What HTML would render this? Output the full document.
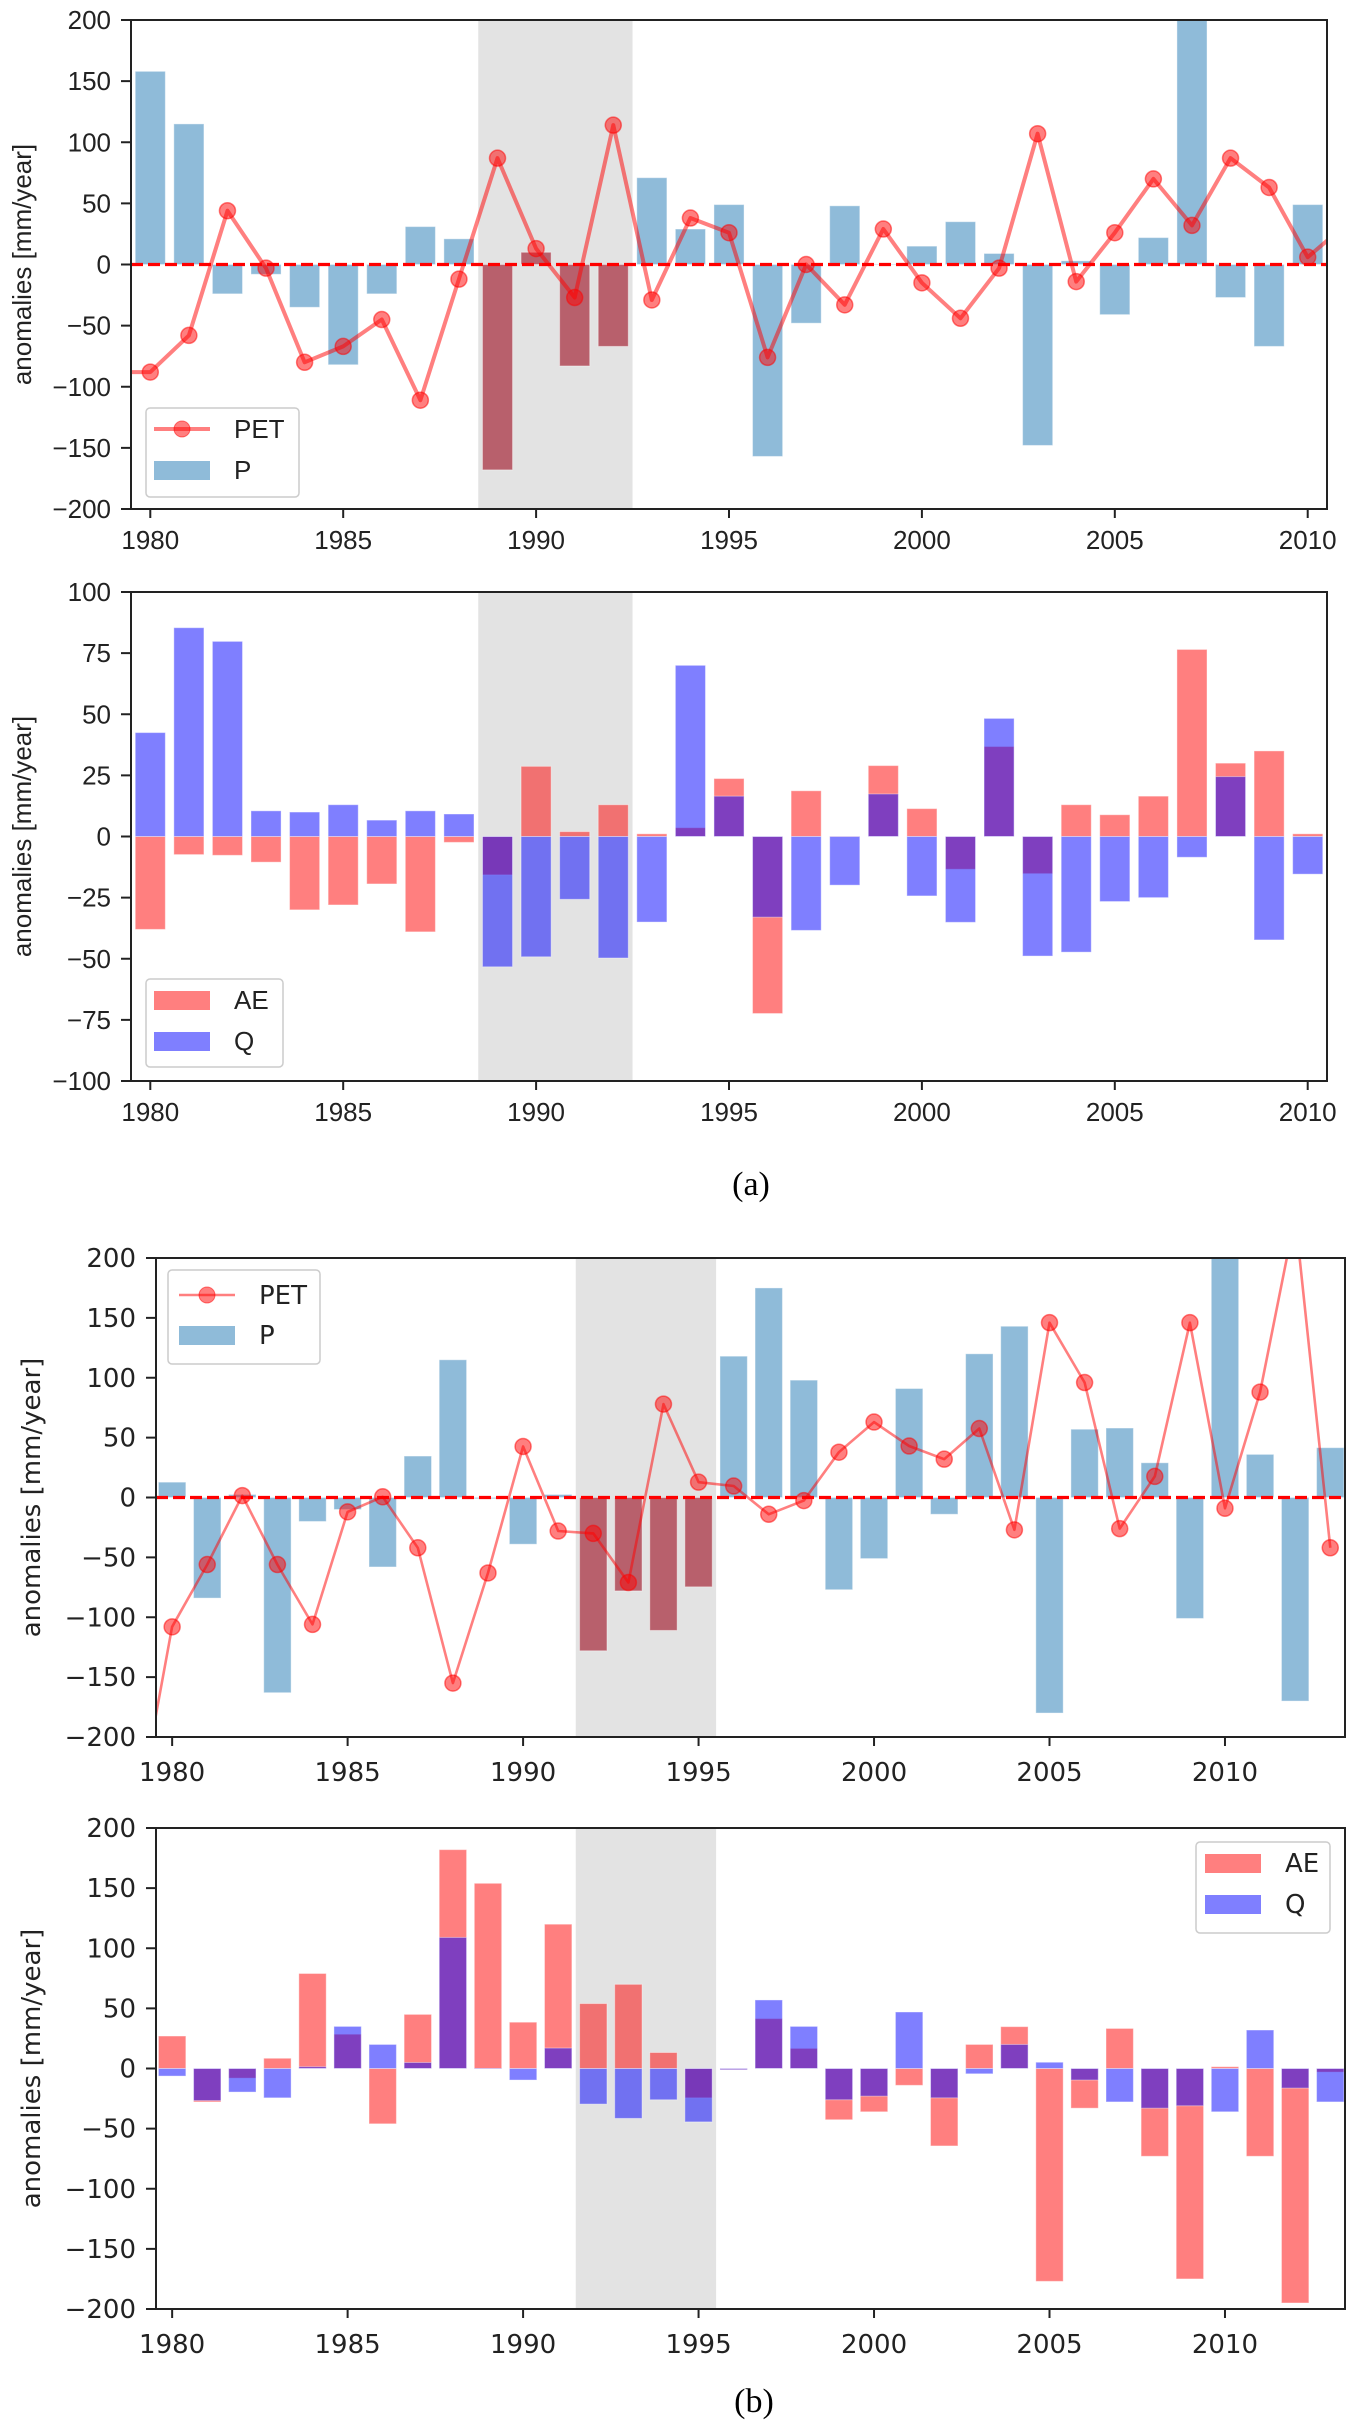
<!DOCTYPE html>
<html><head><meta charset="utf-8">
<style>
html,body{margin:0;padding:0;background:#fff;}
svg{display:block;}
</style></head>
<body>
<svg id="fig" xmlns="http://www.w3.org/2000/svg" width="1361" height="2435" viewBox="0 0 1361 2435">
<rect x="0" y="0" width="1361" height="2435" fill="#fff"/>
<text x="751" y="1195" font-family="Liberation Serif, serif" font-size="34" text-anchor="middle">(a)</text>
<text x="754" y="2412" font-family="Liberation Serif, serif" font-size="34" text-anchor="middle">(b)</text>
</svg>
<script>
const yearsA = [1980,1981,1982,1983,1984,1985,1986,1987,1988,1989,1990,1991,1992,1993,1994,1995,1996,1997,1998,1999,2000,2001,2002,2003,2004,2005,2006,2007,2008,2009,2010];
const petYearsA = [1979,1980,1981,1982,1983,1984,1985,1986,1987,1988,1989,1990,1991,1992,1993,1994,1995,1996,1997,1998,1999,2000,2001,2002,2003,2004,2005,2006,2007,2008,2009,2010,2011];
const pA = [158,115,-24,-8,-35,-82,-24,31,21,-168,10,-83,-67,71,29,49,-157,-48,48,0,15,35,9,-148,3,-41,22,230,-27,-67,49];
const petA = [-88,-88,-58,44,-3,-80,-67,-45,-111,-12,87,13,-27,114,-29,38,26,-76,0,-33,29,-15,-44,-3,107,-14,26,70,32,87,63,6,33];
const aeA = [-38,-7.4,-7.7,-10.5,-30,-28,-19.4,-39,-2.4,-15.7,28.7,2,13,1.1,3.6,23.7,-72.4,18.7,0,29,11.4,-13.4,36.8,-15.2,13,8.9,16.5,76.5,30,35,1.1];
const qA = [42.5,85.4,79.8,10.5,10,13,6.7,10.5,9.2,-53.3,-49.2,-25.7,-49.7,-35,70,16.5,-33,-38.4,-19.9,17.4,-24.3,-35.1,48.3,-48.9,-47.3,-26.6,-25,-8.5,24.5,-42.3,-15.4];
const spanA = [1988.5,1992.5];

const yearsB = [1980,1981,1982,1983,1984,1985,1986,1987,1988,1989,1990,1991,1992,1993,1994,1995,1996,1997,1998,1999,2000,2001,2002,2003,2004,2005,2006,2007,2008,2009,2010,2011,2012,2013];
const petYearsB = [1979,1980,1981,1982,1983,1984,1985,1986,1987,1988,1989,1990,1991,1992,1993,1994,1995,1996,1997,1998,1999,2000,2001,2002,2003,2004,2005,2006,2007,2008,2009,2010,2011,2012,2013];
const pB = [12.8,-84,2.5,-163,-20,-10,-58,34.6,115,-1,-39,2.5,-128,-78,-111,-74.6,118,175,98,-77,-51,91,-14,120,143,-180,57,58,29,-101,215,36,-170,41.6];
const petB = [-268,-108,-56,1.6,-56,-106,-12,0.6,-42,-155,-63,42.6,-28,-30,-71,78,12.8,9.6,-14,-2.6,37.8,63,43,32,57.6,-27,146,96,-26,17.6,146,-9,88,235,-42];
const aeB = [27,-27.8,-8,8.5,79,28.5,-46,45,182,154,38.5,120,54,70,13.3,-24.4,-1,41.5,16.7,-42.6,-36,-14,-64.4,20,34.8,-177,-33,33.3,-73,-175,1.5,-73,-195,-3];
const qB = [-6.3,-26.7,-19.6,-24.4,1.5,35,20,5,109,0,-9.6,17,-29.6,-41.5,-26,-44.4,-1,57,35,-26,-23,47,-24.4,-4.4,20,5.2,-9.6,-27.8,-33,-31,-36,32,-16.3,-27.8];
const spanB = [1991.5,1995.5];

const xTicksA = [1980,1985,1990,1995,2000,2005,2010];
const yTicks200 = [-200,-150,-100,-50,0,50,100,150,200];
const yTicks100 = [-100,-75,-50,-25,0,25,50,75,100];

const NS = 'http://www.w3.org/2000/svg';
const fig = document.getElementById('fig');
function mk(tag, attrs, parent){
  const e = document.createElementNS(NS, tag);
  for (const k in attrs) e.setAttribute(k, attrs[k]);
  (parent||fig).appendChild(e);
  return e;
}
let clipId = 0;

function panel(cfg){
  const g = mk('g', {});
  
  
  const sx = v => cfg.L + (v - cfg.xmin) / (cfg.xmax - cfg.xmin) * (cfg.R - cfg.L);
  const sy = v => cfg.B - (v - cfg.ymin) / (cfg.ymax - cfg.ymin) * (cfg.B - cfg.T);
  const cid = 'clip' + (clipId++);
  const defs = mk('defs', {}, g);
  const cp = mk('clipPath', {id: cid}, defs);
  mk('rect', {x: cfg.L, y: cfg.T, width: cfg.R - cfg.L, height: cfg.B - cfg.T}, cp);
  const plot = mk('g', {'clip-path': 'url(#' + cid + ')'}, g);
  const sp = mk('rect', {x: sx(cfg.span[0]), y: cfg.T, width: sx(cfg.span[1]) - sx(cfg.span[0]), height: cfg.B - cfg.T, fill: '#e3e3e3'}, plot);
  
  
  const bw = 0.78;
  function bars(years, vals, color, opacity, spanColor, label){
    years.forEach((yr, i) => {
      const v = vals[i];
      const x0 = sx(yr - bw/2), x1 = sx(yr + bw/2);
      const y0 = sy(Math.max(v,0)), y1 = sy(Math.min(v,0));
      const inSpan = spanColor && yr > cfg.span[0] && yr < cfg.span[1];
      const r = mk('rect', {x: x0, y: y0, width: x1 - x0, height: Math.max(y1 - y0, 0.5),
        fill: inSpan ? spanColor : color, 'fill-opacity': inSpan ? 1 : opacity,
        stroke: '#fff', 'stroke-opacity': 0.4, 'stroke-width': 1}, plot);
      
      
    });
  }
  if (cfg.type === 'pet') {
    bars(cfg.years, cfg.p, '#1f77b4', 0.5, '#b8606c', 'p');
    const zl = mk('line', {x1: cfg.L, x2: cfg.R, y1: sy(0), y2: sy(0), stroke: '#ff0000', 'stroke-width': 3.2, 'stroke-dasharray': '12,5'}, plot);
    
    
    const pts = cfg.petYears.map((yr, i) => sx(yr).toFixed(1) + ',' + sy(cfg.pet[i]).toFixed(1)).join(' ');
    const pl = mk('polyline', {points: pts, fill: 'none', stroke: '#ff0000', 'stroke-opacity': 0.5, 'stroke-width': cfg.lw, 'stroke-linejoin': 'round'}, plot);
    
    
    cfg.petYears.forEach((yr, i) => {
      if (yr < cfg.years[0] || yr > cfg.years[cfg.years.length-1]) return;
      const c = mk('circle', {cx: sx(yr), cy: sy(cfg.pet[i]), r: 8, fill: '#ff0000', 'fill-opacity': 0.5, stroke: '#ff0000', 'stroke-opacity': 0.5, 'stroke-width': 1.5}, plot);
      
      
    });
  } else {
    bars(cfg.years, cfg.ae, '#ff0000', 0.5, null, 'ae');
    bars(cfg.years, cfg.q, '#0000ff', 0.5, null, 'q');
  }
  const fr = mk('rect', {x: cfg.L, y: cfg.T, width: cfg.R - cfg.L, height: cfg.B - cfg.T, fill: 'none', stroke: '#222', 'stroke-width': 2}, g);
  
  
  cfg.xticks.forEach(t => {
    const x = sx(t);
    if (x < cfg.L - 1 || x > cfg.R + 1) return;
    mk('line', {x1: x, x2: x, y1: cfg.B, y2: cfg.B + 9, stroke: '#222', 'stroke-width': 2}, g);
    const tx = mk('text', {x: x, y: cfg.B + cfg.tickDy, 'font-family': cfg.font, 'font-size': 26, fill: '#222', 'text-anchor': 'middle'}, g);
    tx.textContent = t;
    
    
  });
  cfg.yticks.forEach(t => {
    const y = sy(t);
    mk('line', {x1: cfg.L - 10, x2: cfg.L, y1: y, y2: y, stroke: '#222', 'stroke-width': 2}, g);
    const tx = mk('text', {x: cfg.L - 20, y: y + 9, 'font-family': cfg.font, 'font-size': 26, fill: '#222', 'text-anchor': 'end'}, g);
    tx.textContent = t < 0 ? '\u2212' + Math.abs(t) : String(t);
    
    
  });
  const yl = mk('text', {x: 0, y: 0, transform: 'translate(' + (cfg.ylabX + 9) + ',' + ((cfg.T + cfg.B)/2) + ') rotate(-90)', 'font-family': cfg.font, 'font-size': cfg.ylabSize, fill: '#222', 'text-anchor': 'middle'}, g);
  yl.textContent = 'anomalies [mm/year]';
  
  
  const lg = cfg.leg;
  const lgg = mk('g', {}, g);
  
  
  mk('rect', {x: lg.x, y: lg.y, width: lg.w, height: lg.h, rx: 4, fill: '#fff', 'fill-opacity': 0.8, stroke: '#ccc', 'stroke-width': 1.5}, lgg);
  lg.items.forEach((it, k) => {
    const cy = lg.y + lg.first + k * lg.gap;
    const px = lg.x + lg.px;
    if (it.kind === 'line') {
      mk('line', {x1: px, x2: px + 56, y1: cy, y2: cy, stroke: '#ff0000', 'stroke-opacity': 0.5, 'stroke-width': cfg.lw}, lgg);
      mk('circle', {cx: px + 28, cy: cy, r: 8, fill: '#ff0000', 'fill-opacity': 0.5, stroke: '#ff0000', 'stroke-opacity': 0.5}, lgg);
    } else {
      mk('rect', {x: px, y: cy - 9, width: 56, height: 19, fill: it.color, 'fill-opacity': 0.5}, lgg);
    }
    const t = mk('text', {x: px + 80, y: cy + 9, 'font-family': cfg.font, 'font-size': 26, fill: '#222'}, lgg);
    t.textContent = it.label;
    
    
  });
}

const fontA = '"Liberation Sans", Arial, sans-serif';
const fontB = '"DejaVu Sans", sans-serif';

panel({name:'panel-a-pet-p', type:'pet', L:131, R:1327, T:20, B:509, xmin:1979.5, xmax:2010.5, ymin:-200, ymax:200,
  years:yearsA, p:pA, petYears:petYearsA, pet:petA, span:spanA, xticks:xTicksA, yticks:yTicks200, font:fontA, tickDy:40, ylabX:22, ylabSize:26, lw:4,
  leg:{x:146, y:408, w:153, h:89, px:8, first:21, gap:41, items:[{kind:'line',label:'PET'},{kind:'patch',color:'#1f77b4',label:'P'}]}});
panel({name:'panel-a-ae-q', type:'bars', L:131, R:1327, T:592, B:1081, xmin:1979.5, xmax:2010.5, ymin:-100, ymax:100,
  years:yearsA, ae:aeA, q:qA, span:spanA, xticks:xTicksA, yticks:yTicks100, font:fontA, tickDy:40, ylabX:22, ylabSize:26, lw:3,
  leg:{x:146, y:979, w:137, h:88, px:8, first:21, gap:41, items:[{kind:'patch',color:'#ff0000',label:'AE'},{kind:'patch',color:'#0000ff',label:'Q'}]}});
panel({name:'panel-b-pet-p', type:'pet', L:156, R:1345, T:1258, B:1737, xmin:1979.54, xmax:2013.42, ymin:-200, ymax:200,
  years:yearsB, p:pB, petYears:petYearsB, pet:petB, span:spanB, xticks:xTicksA, yticks:yTicks200, font:fontB, tickDy:44, ylabX:31, ylabSize:26, lw:2.6,
  leg:{x:168, y:1270, w:152, h:94, px:11, first:25, gap:40, items:[{kind:'line',label:'PET'},{kind:'patch',color:'#1f77b4',label:'P'}]}});
panel({name:'panel-b-ae-q', type:'bars', L:156, R:1345, T:1828, B:2309, xmin:1979.54, xmax:2013.42, ymin:-200, ymax:200,
  years:yearsB, ae:aeB, q:qB, span:spanB, xticks:xTicksA, yticks:yTicks200, font:fontB, tickDy:44, ylabX:31, ylabSize:26, lw:2.6,
  leg:{x:1196, y:1842, w:134, h:91, px:9, first:21, gap:41, items:[{kind:'patch',color:'#ff0000',label:'AE'},{kind:'patch',color:'#0000ff',label:'Q'}]}});
</script>
</body></html>
